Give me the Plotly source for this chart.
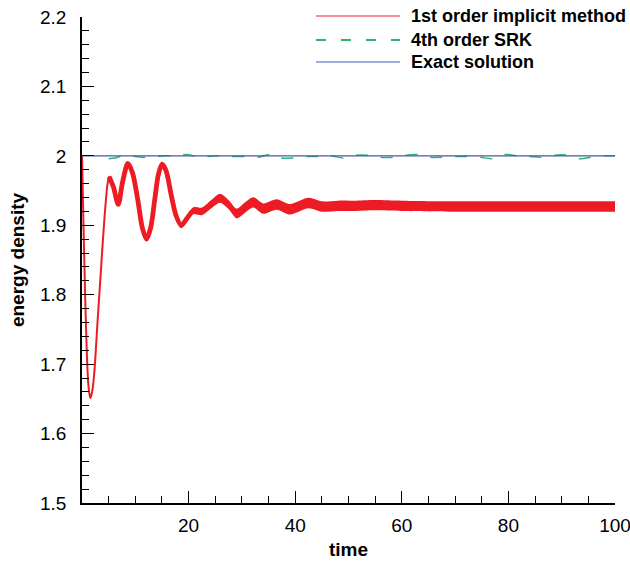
import plotly.graph_objects as go

# ---- data ----
# 1st order implicit method: centre of the oscillating band and its half-thickness
red_t = [0, 0.2, 0.43, 0.75, 1.06, 1.3, 1.56, 1.9, 2.3, 2.94, 3.56, 4.19, 4.8, 5.1, 5.9,
         6.8, 7.6, 8.6, 9.5, 10.5, 11.3, 12.1, 12.9, 13.7, 14.3, 15.0, 15.8, 16.7, 17.6,
         18.6, 19.7, 20.9, 22.5, 24.2, 25.9, 27.5, 29.0, 30.5, 32.1, 34.0, 36.5, 39.0,
         42.5, 45.0, 48.0, 51.0, 55.0, 60.0, 70.0, 80.0, 90.0, 100.0]
red_v = [2.000, 1.930, 1.850, 1.754, 1.687, 1.662, 1.651, 1.660, 1.687, 1.764, 1.836,
         1.908, 1.960, 1.970, 1.955, 1.930, 1.962, 1.989, 1.975, 1.935, 1.897, 1.880,
         1.897, 1.940, 1.972, 1.988, 1.978, 1.945, 1.915, 1.900, 1.910, 1.921, 1.920,
         1.930, 1.939, 1.930, 1.917, 1.925, 1.933, 1.924, 1.930, 1.923, 1.932, 1.927,
         1.928, 1.928, 1.929, 1.928, 1.927, 1.927, 1.927, 1.927]
red_hw = [0.0005, 0.0005, 0.0005, 0.0005, 0.0005, 0.0005, 0.0005, 0.0005, 0.0005, 0.0005,
          0.0008, 0.001, 0.0015, 0.0015, 0.002, 0.002, 0.002, 0.0025, 0.0025, 0.003, 0.003,
          0.003, 0.003, 0.0035, 0.0035, 0.0035, 0.0035, 0.004, 0.004, 0.004, 0.0045, 0.005,
          0.0055, 0.006, 0.0065, 0.0065, 0.007, 0.0075, 0.0075, 0.0075, 0.0075, 0.0075,
          0.0075, 0.0075, 0.0075, 0.0075, 0.0075, 0.0075, 0.0075, 0.0075, 0.0075, 0.0075]
# the curve is a thin line until its first peak, then turns into a thick band
red_thin_until = 5.1

# 4th order SRK
green_t = [5.0, 6.2, 7.5, 8.7, 10.0, 11.3, 12.5, 14.0, 15.5, 17.0, 18.5, 19.7, 21.0, 22.0,
           23.5, 25.5, 27.5, 29.5, 31.3, 33.0, 35.3, 37.3, 39.5, 42.0, 44.0, 46.7, 49.0,
           51.4, 53.6, 56.0, 58.3, 60.7, 63.0, 65.3, 67.5, 70.0, 72.0, 74.7, 77.0, 79.4,
           81.6, 84.0, 86.3, 88.7, 91.0, 93.4, 95.6, 98.0, 100.0]
green_v = [1.996, 1.997, 2.000, 2.000, 1.999, 1.998, 1.998, 1.999, 2.000, 2.000, 2.001,
           2.002, 2.000, 1.997, 1.999, 2.000, 1.999, 1.999, 1.999, 1.998, 2.002, 1.997,
           1.997, 1.999, 1.999, 2.000, 1.997, 2.001, 2.001, 1.998, 1.998, 2.001, 2.002,
           1.998, 1.998, 1.999, 1.999, 1.998, 1.996, 2.002, 2.000, 1.999, 1.998, 2.001,
           2.001, 1.996, 1.998, 2.000, 2.000]

# Exact solution
exact_t = [0, 100]
exact_v = [2.0, 2.0]

x_ticks = [0, 20, 40, 60, 80, 100]
x_ticktext = ["", "20", "40", "60", "80", "100"]
y_ticks = [1.5, 1.6, 1.7, 1.8, 1.9, 2.0, 2.1, 2.2]
y_ticktext = ["1.5", "1.6", "1.7", "1.8", "1.9", "2", "2.1", "2.2"]

legend_names = ["1st order implicit method", "4th order SRK", "Exact solution"]

RED = "#ED1C24"
GREEN = "#2EB36C"
BLUE = "#4558B4"
FONT = "Liberation Sans, Arial, Helvetica, sans-serif"

red_lo = [v - h for v, h in zip(red_v, red_hw)]
red_hi = [v + h for v, h in zip(red_v, red_hw)]
thin_idx = [i for i, t in enumerate(red_t) if t <= red_thin_until]
thick_idx = [i for i, t in enumerate(red_t) if t >= red_thin_until]

spl = dict(shape="spline", smoothing=0.8)
fig = go.Figure()
fig.add_trace(go.Scatter(x=red_t, y=red_lo, mode="lines",
                         line=dict(width=0, color=RED, **spl),
                         showlegend=False, hoverinfo="skip"))
fig.add_trace(go.Scatter(x=red_t, y=red_hi, mode="lines",
                         line=dict(width=0, color=RED, **spl),
                         fill="tonexty", fillcolor=RED, showlegend=False, hoverinfo="skip"))
fig.add_trace(go.Scatter(x=red_t, y=red_v, mode="lines",
                         line=dict(width=2, color=RED, **spl),
                         name=legend_names[0], showlegend=False))
fig.add_trace(go.Scatter(x=[red_t[i] for i in thick_idx], y=[red_v[i] for i in thick_idx],
                         mode="lines", line=dict(width=4.8, color=RED, **spl),
                         name=legend_names[0], showlegend=False))
fig.add_trace(go.Scatter(x=green_t, y=green_v, mode="lines",
                         line=dict(width=1.5, color=GREEN, dash="12px,13px", **spl),
                         name=legend_names[1], showlegend=False))
fig.add_trace(go.Scatter(x=exact_t, y=exact_v, mode="lines",
                         line=dict(width=1.4, color=BLUE),
                         name=legend_names[2], showlegend=False))

# manual legend (long sample lines like the reference)
L, R, T, B = 82, 615, 17, 503
def px(xp):
    return (xp - L) / (R - L)
def py(yp):
    return (B - yp) / (B - T)

rows = [16, 40, 62]
styles = [dict(color=RED, width=1.2), dict(color=GREEN, width=2, dash="10px,15px"),
          dict(color=BLUE, width=1.2)]
for name, yr, st in zip(legend_names, rows, styles):
    fig.add_shape(type="line", xref="paper", yref="paper", x0=px(316), x1=px(400),
                  y0=py(yr), y1=py(yr), line=st)
    fig.add_annotation(xref="paper", yref="paper", x=px(409), y=py(yr), text="<b>" + name + "</b>",
                       showarrow=False, xanchor="left", yanchor="middle",
                       font=dict(family=FONT, size=18, color="black"))

fig.update_layout(
    width=630, height=561,
    margin=dict(l=L, r=630 - R, t=T, b=561 - B, autoexpand=False),
    paper_bgcolor="white", plot_bgcolor="white",
    font=dict(family=FONT, size=19, color="black"),
    showlegend=False,
)
fig.update_xaxes(
    range=[0, 100], tickmode="array", tickvals=x_ticks, ticktext=x_ticktext,
    ticks="inside", ticklen=12, tickwidth=1.2, tickcolor="black",
    minor=dict(tickmode="array", tickvals=list(range(0, 101, 5)), ticks="inside",
               ticklen=7, tickwidth=1, tickcolor="black"),
    showline=True, linecolor="black", linewidth=1.5, showgrid=False, zeroline=False,
    tickfont=dict(size=19), ticklabelstandoff=4, ticklabeloverflow="allow",
    automargin=False,
    title=dict(text="<b>time</b>", font=dict(size=19), standoff=8),
)
fig.update_yaxes(
    range=[1.5, 2.2], tickmode="array", tickvals=y_ticks, ticktext=y_ticktext,
    ticks="inside", ticklen=12, tickwidth=1.2, tickcolor="black",
    minor=dict(tickmode="array", tickvals=[round(1.5 + 0.02 * i, 2) for i in range(36)],
               ticks="inside", ticklen=7, tickwidth=1, tickcolor="black"),
    showline=True, linecolor="black", linewidth=1.5, showgrid=False, zeroline=False,
    tickfont=dict(size=19), ticklabelstandoff=10, ticklabeloverflow="allow",
    automargin=False,
    title=dict(text="<b>energy density</b>", font=dict(size=19), standoff=10),
)

fig.write_html("out.html")
